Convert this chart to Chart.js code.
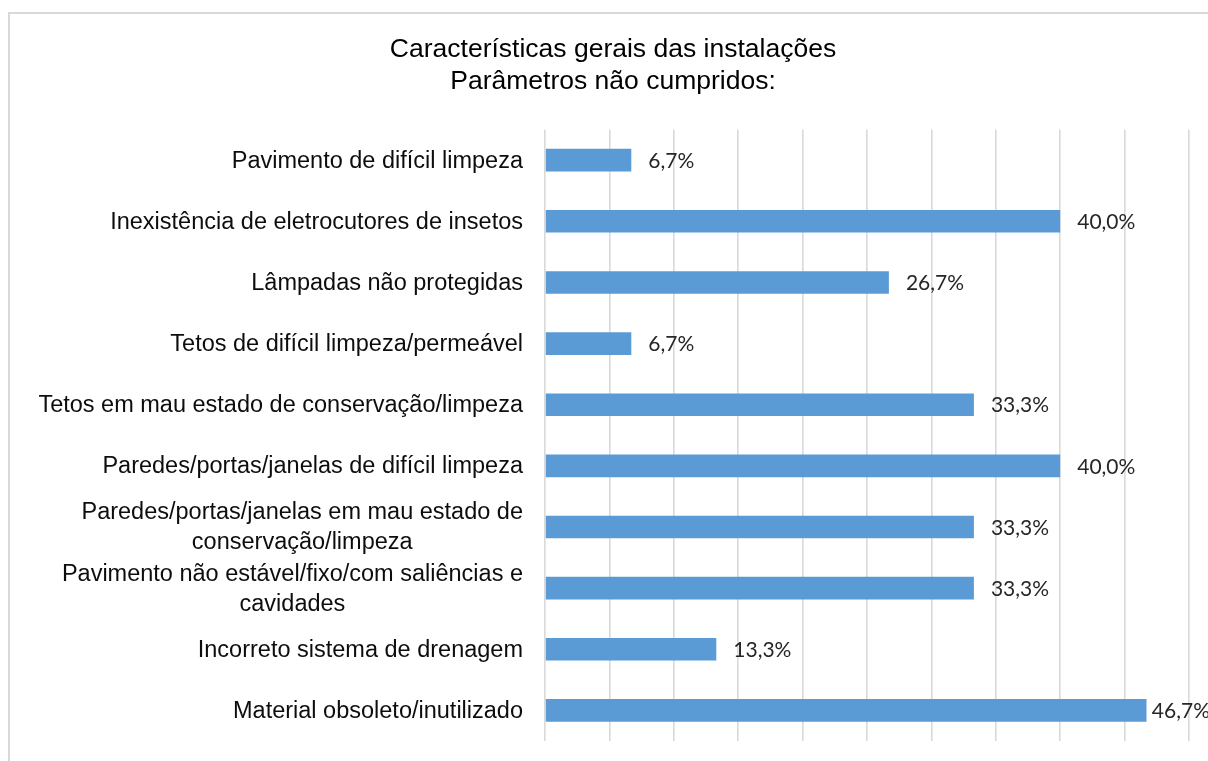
<!DOCTYPE html>
<html>
<head>
<meta charset="utf-8">
<script src="https://cdn.jsdelivr.net/npm/chart.js@4.4.0/dist/chart.umd.min.js"></script>
<style>
  body { margin: 0; background: #fff; }
  #frame { position: absolute; left: 8px; top: 12px; width: 1300px; height: 900px; border: 2px solid #d9d9d9; }
  #chart { position: absolute; left: 0; top: 0; }
</style>
</head>
<body>
<div id="frame"></div>
<canvas id="chart" width="1208" height="761"></canvas>
<script>
const titleLines = ['Características gerais das instalações', 'Parâmetros não cumpridos:'];

const categories = [
    'Pavimento de difícil limpeza',
    'Inexistência de eletrocutores de insetos',
    'Lâmpadas não protegidas',
    'Tetos de difícil limpeza/permeável',
    'Tetos em mau estado de conservação/limpeza',
    'Paredes/portas/janelas de difícil limpeza',
    ['Paredes/portas/janelas em mau estado de', 'conservação/limpeza'],
    ['Pavimento não estável/fixo/com saliências e', 'cavidades'],
    'Incorreto sistema de drenagem',
    'Material obsoleto/inutilizado'
];

const percentages = [6.7, 40.0, 26.7, 6.7, 33.3, 40.0, 33.3, 33.3, 13.3, 46.7];

// value labels to the right of each bar (pulled in when they would run off the edge)
const barValueLabels = {
    id: 'barValueLabels',
    afterDatasetsDraw(chart) {
        const ctx = chart.ctx;
        const meta = chart.getDatasetMeta(0);
        ctx.save();
        ctx.font = '21px Lato';
        ctx.fillStyle = '#262626';
        ctx.textAlign = 'left';
        ctx.textBaseline = 'middle';
        meta.data.forEach((bar, i) => {
            const txt = percentages[i].toFixed(1).replace('.', ',') + '%';
            const w = ctx.measureText(txt).width;
            const x = Math.min(bar.x + 17, chart.width - w + 2);
            ctx.fillText(txt, x, bar.y + 1);
        });
        ctx.restore();
    }
};

// category labels: block right-aligned, wrapped lines centred on each other (like Excel)
const categoryLabels = {
    id: 'categoryLabels',
    afterDraw(chart) {
        const ctx = chart.ctx;
        const yScale = chart.scales.y;
        const right = chart.chartArea.left - 22;
        const lineH = 30;
        ctx.save();
        ctx.font = '23.5px "Liberation Sans", Arial';
        ctx.fillStyle = '#0d0d0d';
        ctx.textAlign = 'center';
        ctx.textBaseline = 'middle';
        categories.forEach((lab, i) => {
            const lines = Array.isArray(lab) ? lab : [lab];
            const w = Math.max(...lines.map(l => ctx.measureText(l).width));
            const cx = right - w / 2;
            const cy = yScale.getPixelForTick(i);
            lines.forEach((l, k) => {
                ctx.fillText(l, cx, cy + (k - (lines.length - 1) / 2) * lineH + 1);
            });
        });
        ctx.restore();
    }
};

new Chart(document.getElementById('chart').getContext('2d'), {
    type: 'bar',
    data: {
        labels: categories,
        datasets: [{
            data: percentages,
            backgroundColor: '#5b9bd5',
            borderWidth: 0,
            barPercentage: 0.37,
            categoryPercentage: 1
        }]
    },
    options: {
        indexAxis: 'y',
        responsive: false,
        animation: false,
        devicePixelRatio: 1,
        layout: { padding: { left: 37, right: 19, top: 0, bottom: 20 } },
        plugins: {
            legend: { display: false },
            tooltip: { enabled: false },
            title: {
                display: true,
                text: titleLines,
                color: '#000',
                font: { family: 'Liberation Sans, Arial', size: 26.5, weight: 'normal', lineHeight: 1.2 },
                padding: { top: 34, bottom: 32 }
            }
        },
        scales: {
            x: {
                min: 0,
                max: 50,
                ticks: { display: false, stepSize: 5 },
                grid: { color: '#d9d9d9', lineWidth: 1.6, drawTicks: false },
                border: { display: false },
                afterFit(scale) { scale.height = 0; }
            },
            y: {
                grid: { display: false, drawTicks: false },
                border: { display: false },
                ticks: { display: false, autoSkip: false },
                afterFit(scale) { scale.width = 508; }
            }
        }
    },
    plugins: [barValueLabels, categoryLabels]
});
</script>
</body>
</html>
